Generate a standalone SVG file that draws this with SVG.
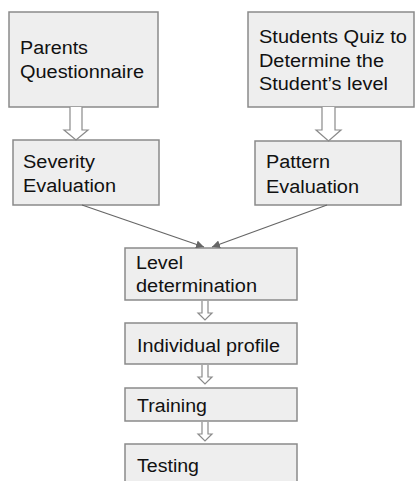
<svg xmlns="http://www.w3.org/2000/svg" width="415" height="481" viewBox="0 0 415 481">
<style>
.box{fill:#eeeeee;stroke:#8a8a8a;stroke-width:1.5}
.t{font-family:"Liberation Sans",Arial,sans-serif;font-size:18px;fill:#111}
.ba{fill:#ffffff;stroke:#8a8a8a;stroke-width:1.2}
.ln{stroke:#666;stroke-width:1.2;fill:none}
</style>
<defs>
<marker id="ah" viewBox="0 0 10 10" refX="10" refY="5" markerWidth="8" markerHeight="8" markerUnits="userSpaceOnUse" orient="auto">
<path d="M0,0 L10,5 L0,10 z" fill="#666"/>
</marker>
</defs>
<rect width="415" height="481" fill="#fff"/>
<g id="parents"><rect class="box" x="9" y="12" width="149" height="95"/><text class="t" x="20" y="54" textLength="68" lengthAdjust="spacingAndGlyphs">Parents</text><text class="t" x="20" y="78" textLength="124" lengthAdjust="spacingAndGlyphs">Questionnaire</text></g>
<g id="students"><rect class="box" x="248" y="12" width="166" height="95"/><text class="t" x="259" y="43" textLength="148" lengthAdjust="spacingAndGlyphs">Students Quiz to</text><text class="t" x="259" y="67" textLength="125" lengthAdjust="spacingAndGlyphs">Determine the</text><text class="t" x="259" y="90" textLength="129" lengthAdjust="spacingAndGlyphs">Student’s level</text></g>
<g id="severity"><rect class="box" x="13" y="140" width="146" height="65"/><text class="t" x="23" y="168" textLength="72" lengthAdjust="spacingAndGlyphs">Severity</text><text class="t" x="23" y="192" textLength="93" lengthAdjust="spacingAndGlyphs">Evaluation</text></g>
<g id="pattern"><rect class="box" x="255" y="141" width="146" height="64"/><text class="t" x="266" y="168" textLength="64" lengthAdjust="spacingAndGlyphs">Pattern</text><text class="t" x="266" y="193" textLength="93" lengthAdjust="spacingAndGlyphs">Evaluation</text></g>
<g id="level"><rect class="box" x="125" y="248" width="172" height="52"/><text class="t" x="136" y="269" textLength="47" lengthAdjust="spacingAndGlyphs">Level</text><text class="t" x="136" y="292" textLength="121" lengthAdjust="spacingAndGlyphs">determination</text></g>
<g id="profile"><rect class="box" x="125" y="323" width="172" height="41"/><text class="t" x="137" y="352" textLength="143" lengthAdjust="spacingAndGlyphs">Individual profile</text></g>
<g id="training"><rect class="box" x="125" y="388" width="172" height="33"/><text class="t" x="137" y="412" textLength="70" lengthAdjust="spacingAndGlyphs">Training</text></g>
<g id="testing"><rect class="box" x="125" y="444" width="172" height="40"/><text class="t" x="137" y="472" textLength="62" lengthAdjust="spacingAndGlyphs">Testing</text></g>
<g id="connectors">
<path class="ba" d="M70,107 V130 H64 L76,140 L88,130 H82 V107"/>
<path class="ba" d="M322,107 V130 H316 L328.5,141 L341,130 H335 V107"/>
<line class="ln" x1="82" y1="205" x2="204" y2="247" marker-end="url(#ah)"/>
<line class="ln" x1="327" y1="205" x2="212" y2="247" marker-end="url(#ah)"/>
<path class="ba" d="M202,301 V313 H198 L205,320 L212,313 H208 V301"/>
<path class="ba" d="M202,365 V377 H198 L205,384 L212,377 H208 V365"/>
<path class="ba" d="M202,422 V434 H198 L205,441 L212,434 H208 V422"/>
</g>
</svg>
